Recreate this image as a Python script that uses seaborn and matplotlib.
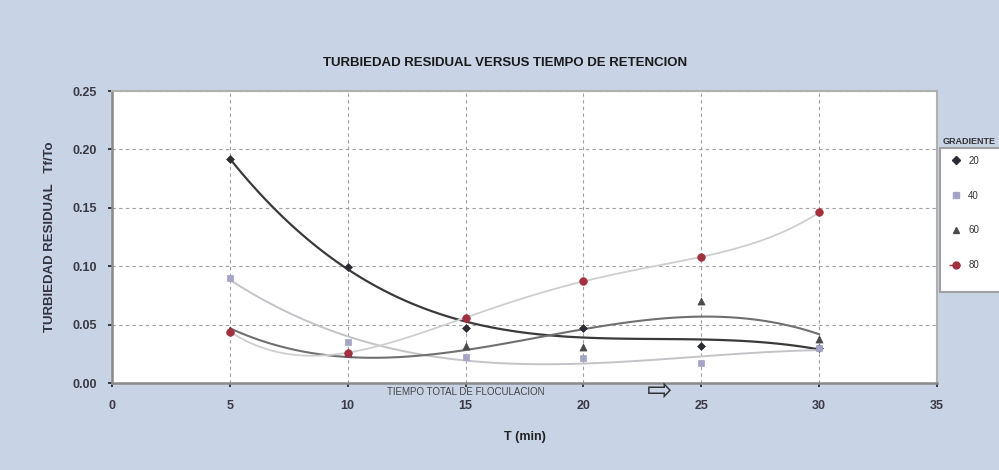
import numpy as np
import pandas as pd
import matplotlib
matplotlib.use("Agg")
import matplotlib.pyplot as plt
from matplotlib.lines import Line2D
from matplotlib.patches import Rectangle
import seaborn as sns

# Tiempo de retención (min) y turbiedad residual Tf/To por gradiente
tiempo = [5, 10, 15, 20, 25, 30]
g20 = [0.192, 0.099, 0.047, 0.047, 0.032, 0.030]
g40 = [0.090, 0.035, 0.022, 0.021, 0.017, 0.030]
g60 = [0.045, 0.026, 0.032, 0.031, 0.070, 0.038]
g80 = [0.044, 0.026, 0.056, 0.087, 0.108, 0.146]
gradientes = ["20", "40", "60", "80"]

x_ticks = [0, 5, 10, 15, 20, 25, 30, 35]
y_ticks = [0.00, 0.05, 0.10, 0.15, 0.20, 0.25]

sns.set_theme(style="white")
plt.rcParams["font.family"] = ["Liberation Sans", "DejaVu Sans"]

fig = plt.figure(figsize=(9.99, 4.70), dpi=100, facecolor="#c8d3e6")
ax = fig.add_axes([112 / 999, 1 - 383 / 470, (937 - 112) / 999, (383 - 91) / 470])
ax.set_facecolor("white")

df = pd.DataFrame({"T": tiempo, "20": g20, "40": g40, "60": g60, "80": g80})

estilos = {
    "20": dict(line="#3a3a3a", lw=1.6, order=3, marker="D", mc="#2b2b33", ms=16),
    "40": dict(line="#c4c4c8", lw=1.4, order=3, marker="s", mc="#a4a4c4", ms=20),
    "60": dict(line="#707070", lw=1.5, order=3, marker="^", mc="#4a4a4a", ms=26),
    "80": dict(line="#cfcfd2", lw=1.3, order=5, marker="o", mc="#a2303e", ms=30),
}

for g in gradientes:
    st = estilos[g]
    sns.regplot(data=df, x="T", y=g, order=st["order"], ci=None, scatter=False,
                truncate=True, ax=ax,
                line_kws=dict(color=st["line"], lw=st["lw"], zorder=3))
for g in gradientes:
    st = estilos[g]
    sns.scatterplot(data=df, x="T", y=g, marker=st["marker"], color=st["mc"],
                    s=st["ms"], edgecolor=st["mc"], linewidth=0.5, ax=ax, zorder=4)

ax.set_xlim(0, 35)
ax.set_ylim(0, 0.25)
ax.set_xticks(x_ticks)
ax.set_yticks(y_ticks)
ax.set_xticklabels([str(v) for v in x_ticks])
ax.set_yticklabels([f"{v:.2f}" for v in y_ticks])
ax.tick_params(axis="x", labelsize=9, pad=9, length=3, direction="out", bottom=True)
ax.tick_params(axis="y", labelsize=9, pad=8, length=3, direction="out", left=True)
for lab in ax.get_xticklabels() + ax.get_yticklabels():
    lab.set_fontweight("bold")
    lab.set_color("#3a3a44")

ax.grid(True, color="#a0a0a0", linestyle=(0, (3, 3)), linewidth=0.8)
ax.set_axisbelow(True)

for side in ["left", "bottom"]:
    ax.spines[side].set_color("#8a8a8a")
    ax.spines[side].set_linewidth(1.8)
for side in ["top", "right"]:
    ax.spines[side].set_color("#b0b0b0")
    ax.spines[side].set_linewidth(1.5)

ax.set_xlabel("T (min)", fontsize=9, fontweight="bold", color="#222222", labelpad=14)
ax.set_ylabel("TURBIEDAD RESIDUAL   Tf/To", fontsize=9.5, fontweight="bold",
              color="#333340", labelpad=12)

fig.text(505 / 999, 1 - 63 / 470, "TURBIEDAD RESIDUAL VERSUS TIEMPO DE RETENCION",
         ha="center", va="center", fontsize=9.5, fontweight="bold", color="#1a1a1a")

# Nota bajo el eje horizontal
fig.text(387 / 999, 1 - 392 / 470, "TIEMPO TOTAL DE FLOCULACION", ha="left",
         va="center", fontsize=7, color="#444444")
fig.text(660 / 999, 1 - 391 / 470, "\u21e8", ha="center", va="center",
         fontsize=22, color="#333333", family=["DejaVu Sans"])

# Leyenda
handles = []
for g in gradientes:
    st = estilos[g]
    if g == "80":
        h = Line2D([], [], color=st["mc"], linestyle=(0, (3, 2)), lw=1,
                   marker=st["marker"], markersize=5, markerfacecolor=st["mc"])
    else:
        h = Line2D([], [], linestyle="none", marker=st["marker"], color=st["mc"],
                   markersize=4)
    handles.append(h)

fig.patches.append(Rectangle((940 / 999, 1 - 292 / 470), 0.1, (292 - 148) / 470,
                             transform=fig.transFigure, facecolor="white",
                             edgecolor="#a0a0a0", lw=1.5, zorder=1))
fig.text(943 / 999, 1 - 142 / 470, "GRADIENTE", ha="left", va="center",
         fontsize=6.5, fontweight="bold", color="#333333")
fig.legend(handles, gradientes, loc="upper left",
           bbox_to_anchor=(940 / 999, 1 - 147 / 470), frameon=False,
           fontsize=7, labelspacing=2.55, handlelength=1.4, handletextpad=0.6,
           labelcolor="#333333")

fig.savefig("out.png", dpi=100, facecolor=fig.get_facecolor())
